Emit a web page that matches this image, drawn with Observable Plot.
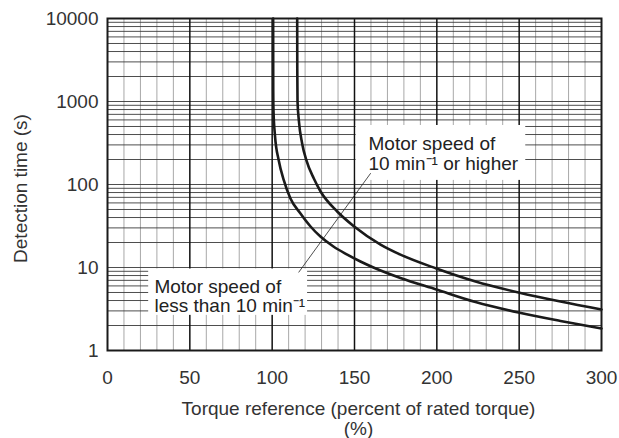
<!DOCTYPE html>
<html>
<head>
<meta charset="utf-8">
<script src="https://cdn.jsdelivr.net/npm/d3@7"></script>
<script src="https://cdn.jsdelivr.net/npm/@observablehq/plot@0.6"></script>
<style>
  html, body { margin: 0; padding: 0; background: #fff; }
  #chart { width: 619px; height: 438px; }
</style>
</head>
<body>
<div id="chart"></div>
<script>
// ---- data ----
const upperX = [115.2, 115.25, 115.4, 116.2, 118.2, 120.8, 125.3, 129.4, 139.5, 149.8, 165.8, 177.9, 199.7, 223.5, 249.6, 275.1, 300];
const upperY = [10000, 2500, 1000, 590, 312, 195, 118, 82.4, 47.3, 31.2, 18.9, 14.3, 9.72, 6.78, 5.0, 3.89, 3.12];
const upperName = "Motor speed of 10 min-1 or higher";

const lowerX = [100.6, 100.65, 100.8, 101.7, 104.0, 107.1, 111.1, 117.2, 123.3, 129.3, 137.2, 145.6, 153.6, 161.5, 177.9, 199.7, 223.5, 249.6, 275.1, 300];
const lowerY = [10000, 1357, 779, 389, 195, 112, 67.8, 44.7, 31.2, 23.6, 17.9, 14.3, 11.8, 10.0, 7.47, 5.43, 3.84, 2.87, 2.27, 1.84];
const lowerName = "Motor speed of less than 10 min-1";

const xTicks = [0, 50, 100, 150, 200, 250, 300];
const yTicks = [1, 10, 100, 1000, 10000];
const xLabel = "Torque reference (percent of rated torque)";
const xLabel2 = "(%)";
const yLabel = "Detection time (s)";

// annotation text lines and their anchor points (data units)
const noteText = ["Motor speed of", "10 min\u207B\u00B9 or higher", "Motor speed of", "less than 10 min\u207B\u00B9"];
const noteX = [158.5, 158.5, 28.5, 28.5];
const noteY = [312, 179, 5.9, 3.48];

// white label boxes (data units)
const boxX1 = [151, 25];
const boxX2 = [254, 121.5];
const boxY1 = [112, 2.65];
const boxY2 = [514, 9.6];

// leader line (data units)
const leaderX = [159.7, 116.2];
const leaderY = [135.7, 8.8];

// ---- derived tables ----
const upper = upperX.map((x, i) => ({x, y: upperY[i], s: upperName}));
const lower = lowerX.map((x, i) => ({x, y: lowerY[i], s: lowerName}));
const curves = upper.concat(lower);

const xMinor = d3.range(10, 300, 10).filter(v => v % 50 !== 0);
const xMajor = [50, 100, 150, 200, 250];
const yGrid = [];
for (const d of [1, 10, 100, 1000]) for (let k = 2; k <= 10; k++) yGrid.push(k * d);

const notes = noteText.map((t, i) => ({t, x: noteX[i], y: noteY[i]}));
const boxes = boxX1.map((x1, i) => ({x1, x2: boxX2[i], y1: boxY1[i], y2: boxY2[i]}));
const leader = leaderX.map((x, i) => ({x, y: leaderY[i]}));

const font = "'Liberation Sans', Arial, Helvetica, sans-serif";

const chart = Plot.plot({
  width: 619,
  height: 438,
  marginLeft: 107,
  marginRight: 18,
  marginTop: 18,
  marginBottom: 88,
  style: {fontFamily: font, fontSize: "19px", color: "#333", background: "#fff", overflow: "visible"},
  x: {domain: [0, 300]},
  y: {type: "log", domain: [1, 10000]},
  marks: [
    Plot.ruleX(xMinor, {stroke: "#a8a8a8", strokeWidth: 1}),
    Plot.ruleY(yGrid, {stroke: "#3a3a3a", strokeWidth: 0.9}),
    Plot.ruleX(xMajor, {stroke: "#111", strokeWidth: 1.5}),
    Plot.rect(boxes, {x1: "x1", x2: "x2", y1: "y1", y2: "y2", fill: "#fff"}),
    Plot.line(curves, {x: "x", y: "y", z: "s", stroke: "#1a1a1a", strokeWidth: 2.6, curve: "monotone-x"}),
    Plot.line(leader, {x: "x", y: "y", stroke: "#222", strokeWidth: 0.8}),
    Plot.text(notes, {x: "x", y: "y", text: "t", textAnchor: "start", fill: "#222", fontSize: 19}),
    Plot.frame({stroke: "#1a1a1a", strokeWidth: 2}),
    Plot.axisX({ticks: xTicks, tickSize: 0, tickPadding: 20, label: null, fontSize: 19, fill: "#333"}),
    Plot.axisY({ticks: yTicks, tickFormat: d => String(d), tickSize: 0, tickPadding: 9, label: null, fontSize: 19, fill: "#333"}),
    Plot.text([xLabel], {frameAnchor: "bottom", dx: 4, dy: 58, fontSize: 19, fill: "#333", lineAnchor: "middle"}),
    Plot.text([xLabel2], {frameAnchor: "bottom", dx: 4, dy: 78, fontSize: 19, fill: "#333", lineAnchor: "middle"}),
    Plot.text([yLabel], {frameAnchor: "left", textAnchor: "middle", dx: -87, dy: 4, rotate: -90, fontSize: 19, fill: "#333", lineAnchor: "middle"})
  ]
});
document.getElementById("chart").appendChild(chart);
</script>
</body>
</html>
